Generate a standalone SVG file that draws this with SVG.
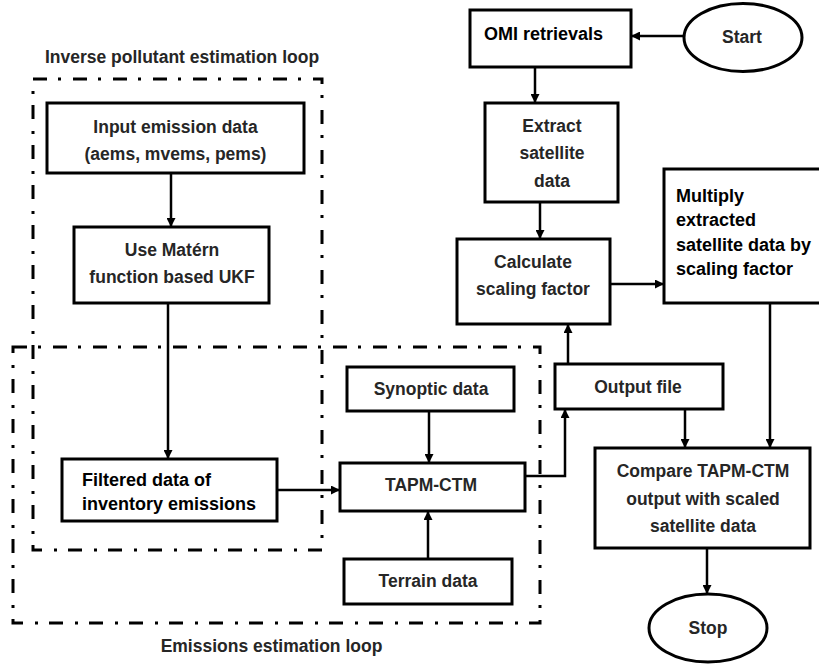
<svg xmlns="http://www.w3.org/2000/svg" width="819" height="668" viewBox="0 0 819 668">
<style>
.box{fill:#fff;stroke:#000;stroke-width:3}
.loop{fill:none;stroke:#000;stroke-width:3;stroke-dasharray:14 11 3 12}
.t{font-family:"Liberation Sans",Arial,sans-serif;font-weight:bold;font-size:17.5px;fill:#262626;text-anchor:middle}
.k{fill:#000;font-size:18px}
.l{text-anchor:start}
.c{fill:none;stroke:#000;stroke-width:2.5}
</style>
<defs>
<marker id="ah" viewBox="0 0 10 10" refX="10" refY="5" markerUnits="userSpaceOnUse" markerWidth="9" markerHeight="9" orient="auto">
<path d="M0,0 L10,5 L0,10 z" fill="#000"/>
</marker>
</defs>
<rect width="819" height="668" fill="#fff"/>

<g id="loop-inverse">
<rect class="loop" x="33" y="79" width="289" height="471"/>
<text class="t" x="182" y="63">Inverse pollutant estimation loop</text>
</g>
<g id="loop-emissions">
<rect class="loop" x="13" y="347" width="527" height="276"/>
<text class="t" x="271.5" y="652">Emissions estimation loop</text>
</g>

<g id="connectors">
<line class="c" x1="684" y1="36" x2="631" y2="36" marker-end="url(#ah)"/>
<line class="c" x1="535" y1="67" x2="535" y2="103" marker-end="url(#ah)"/>
<line class="c" x1="540" y1="202" x2="540" y2="239" marker-end="url(#ah)"/>
<line class="c" x1="610" y1="284" x2="664" y2="284" marker-end="url(#ah)"/>
<line class="c" x1="171" y1="173" x2="171" y2="227" marker-end="url(#ah)"/>
<line class="c" x1="168" y1="303" x2="168" y2="459" marker-end="url(#ah)"/>
<line class="c" x1="277" y1="490" x2="340" y2="490" marker-end="url(#ah)"/>
<line class="c" x1="429" y1="411" x2="429" y2="463" marker-end="url(#ah)"/>
<line class="c" x1="428" y1="559" x2="428" y2="511" marker-end="url(#ah)"/>
<polyline class="c" points="525,476 565,476 565,409" marker-end="url(#ah)"/>
<line class="c" x1="568" y1="364" x2="568" y2="324" marker-end="url(#ah)"/>
<line class="c" x1="685" y1="409" x2="685" y2="448" marker-end="url(#ah)"/>
<line class="c" x1="770" y1="303" x2="770" y2="448" marker-end="url(#ah)"/>
<line class="c" x1="707" y1="548" x2="707" y2="594" marker-end="url(#ah)"/>
</g>

<g id="start">
<ellipse class="box" cx="743" cy="37.5" rx="59" ry="34"/>
<text class="t" x="742" y="43">Start</text>
</g>
<g id="omi">
<rect class="box" x="470" y="10" width="161" height="57"/>
<text class="t k l" x="484" y="40">OMI retrievals</text>
</g>
<g id="extract">
<rect class="box" x="485" y="103" width="133" height="99"/>
<text class="t" x="552" y="132">Extract</text>
<text class="t" x="552" y="159">satellite</text>
<text class="t" x="552" y="187">data</text>
</g>
<g id="calculate">
<rect class="box" x="457" y="239" width="153" height="85"/>
<text class="t" x="533" y="268">Calculate</text>
<text class="t" x="533" y="295">scaling factor</text>
</g>
<g id="multiply">
<rect class="box" x="664" y="169" width="160" height="134"/>
<text class="t k l" x="676" y="202">Multiply</text>
<text class="t k l" x="676" y="226">extracted</text>
<text class="t k l" x="676" y="251">satellite data by</text>
<text class="t k l" x="676" y="275">scaling factor</text>
</g>
<g id="input">
<rect class="box" x="47" y="103" width="257" height="70"/>
<text class="t" x="175.5" y="133">Input emission data</text>
<text class="t" x="175.5" y="160">(aems, mvems, pems)</text>
</g>
<g id="matern">
<rect class="box" x="74" y="227" width="195" height="76"/>
<text class="t" x="172" y="256">Use Matérn</text>
<text class="t" x="172" y="283">function based UKF</text>
</g>
<g id="filtered">
<rect class="box" x="62" y="459" width="215" height="62"/>
<text class="t k l" x="82" y="486">Filtered data of</text>
<text class="t k l" x="82" y="510">inventory emissions</text>
</g>
<g id="synoptic">
<rect class="box" x="347" y="367" width="167" height="44"/>
<text class="t" x="431" y="395">Synoptic data</text>
</g>
<g id="tapm">
<rect class="box" x="340" y="463" width="185" height="48"/>
<text class="t" x="431" y="491">TAPM-CTM</text>
</g>
<g id="terrain">
<rect class="box" x="344" y="559" width="168" height="45"/>
<text class="t" x="428" y="587">Terrain data</text>
</g>
<g id="output">
<rect class="box" x="555" y="364" width="168" height="45"/>
<text class="t" x="638" y="393">Output file</text>
</g>
<g id="compare">
<rect class="box" x="595" y="448" width="215" height="100"/>
<text class="t" x="703" y="477">Compare TAPM-CTM</text>
<text class="t" x="703" y="505">output with scaled</text>
<text class="t" x="703" y="532">satellite data</text>
</g>
<g id="stop">
<ellipse class="box" cx="708" cy="628" rx="59" ry="34"/>
<text class="t" x="708" y="634">Stop</text>
</g>
</svg>
